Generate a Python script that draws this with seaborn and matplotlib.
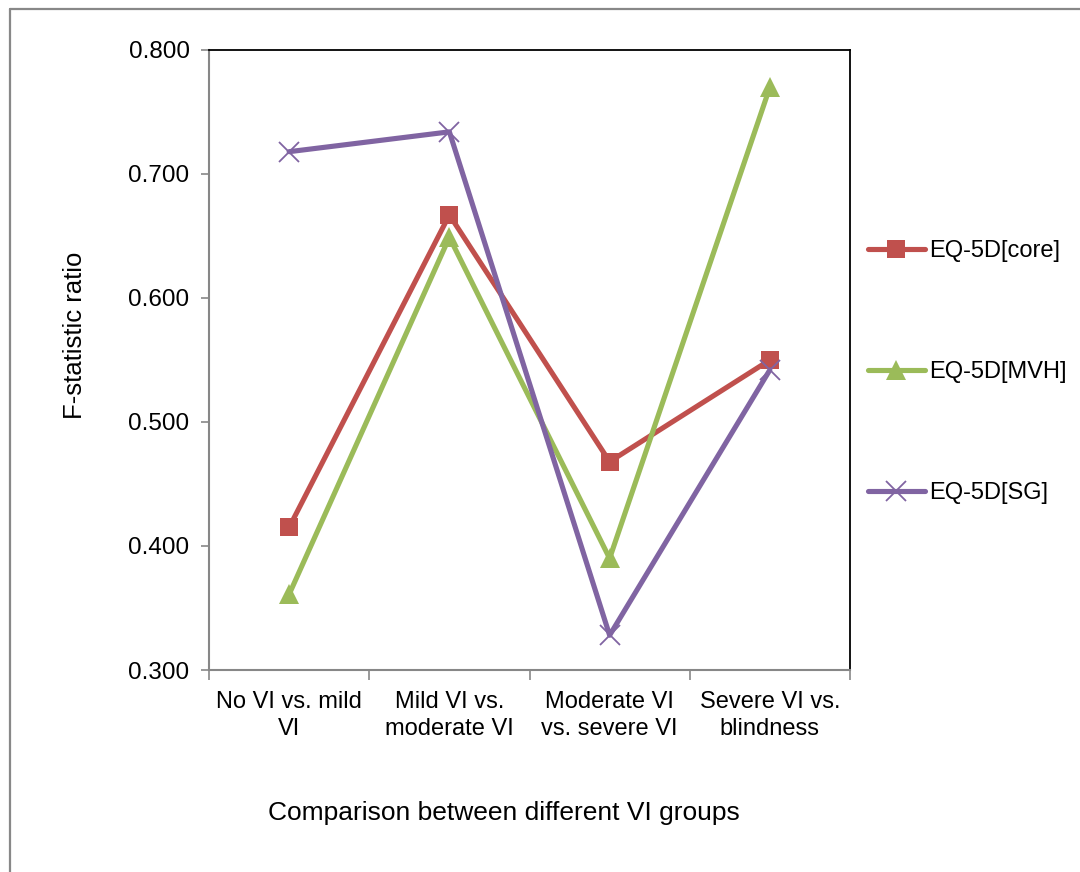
import matplotlib
matplotlib.use("Agg")
import matplotlib.pyplot as plt
from matplotlib.lines import Line2D
import seaborn as sns
import pandas as pd
import numpy as np

categories = ["No VI vs. mild\nVI", "Mild VI vs.\nmoderate VI",
              "Moderate VI\nvs. severe VI", "Severe VI vs.\nblindness"]
core = [0.415, 0.667, 0.468, 0.550]
mvh = [0.361, 0.649, 0.390, 0.770]
sg = [0.718, 0.734, 0.328, 0.542]
series_names = ["EQ-5D[core]", "EQ-5D[MVH]", "EQ-5D[SG]"]
y_ticks = [0.300, 0.400, 0.500, 0.600, 0.700, 0.800]

sns.set_theme(style="white")
plt.rcParams['font.family'] = ['Liberation Sans', 'DejaVu Sans']
plt.rcParams['text.color'] = 'black'
plt.rcParams['xtick.color'] = 'black'
plt.rcParams['ytick.color'] = 'black'

rows = []
for name, vals in zip(series_names, [core, mvh, sg]):
    for i, v in enumerate(vals):
        rows.append({"pos": i, "value": v, "series": name})
df = pd.DataFrame(rows)

colors = {"EQ-5D[core]": "#C0504D", "EQ-5D[MVH]": "#9BBB59", "EQ-5D[SG]": "#8064A2"}
markers = {"EQ-5D[core]": "s", "EQ-5D[MVH]": "^", "EQ-5D[SG]": "x"}
msizes = {"EQ-5D[core]": 13.5, "EQ-5D[MVH]": 14.5, "EQ-5D[SG]": 14}

fig = plt.figure(figsize=(10.8, 8.72), dpi=100)
ax = fig.add_axes([209/1080, 1-670/872, 641/1080, 620/872])

for name in series_names:
    sub = df[df["series"] == name]
    sns.lineplot(data=sub, x="pos", y="value", ax=ax, color=colors[name],
                 linewidth=3.7, marker=markers[name], markersize=msizes[name],
                 markeredgewidth=1.3 if markers[name] == "x" else 0,
                 markeredgecolor=colors[name], label=name, legend=False)

ax.set_xlim(-0.5, 3.5)
ax.set_ylim(0.3, 0.8)
ax.set_yticks(y_ticks)
ax.set_yticklabels([f"{t:.3f}" for t in y_ticks], fontsize=17.5)
ax.set_xticks([-0.5, 0.5, 1.5, 2.5, 3.5])
ax.set_xticklabels([])
ax.set_xticks(range(len(categories)), minor=True)
ax.set_xticklabels(categories, minor=True, fontsize=17, linespacing=1.33)
ax.tick_params(axis='x', which='major', direction='out', length=7, width=1.2,
               color='#878787', bottom=True)
ax.tick_params(axis='x', which='minor', length=0, pad=15, bottom=True)
ax.tick_params(axis='y', direction='out', length=6, width=1.2, color='#878787',
               left=True, pad=8)
ax.set_xlabel("")
ax.set_ylabel("")

for side in ['left', 'bottom']:
    ax.spines[side].set_color('#878787')
    ax.spines[side].set_linewidth(1.5)
for side in ['top', 'right']:
    ax.spines[side].set_color('#000000')
    ax.spines[side].set_linewidth(1.3)
    ax.spines[side].set_visible(True)

handles = [Line2D([], [], color=colors[n], linewidth=3.7, marker=markers[n],
                  markersize=msizes[n], markeredgewidth=1.3 if markers[n] == "x" else 0,
                  markeredgecolor=colors[n]) for n in series_names]
ax.legend(handles, series_names, loc='center left',
          bbox_to_anchor=((868-209)/641, (670-372)/620), frameon=False,
          fontsize=17, handlelength=2.4, handletextpad=0.2, labelspacing=4.2,
          borderpad=0, borderaxespad=0, numpoints=1)

fig.text(504/1080, 1-813/872, "Comparison between different VI groups",
         ha='center', va='center', fontsize=19)
fig.text(75/1080, 1-335/872, "F-statistic ratio", ha='center', va='center',
         rotation=90, fontsize=18.5)

fig.add_artist(Line2D([10/1080, 10/1080], [0, 1-9/872], transform=fig.transFigure,
                      color='#888888', linewidth=1.6))
fig.add_artist(Line2D([10/1080, 1], [1-9/872, 1-9/872], transform=fig.transFigure,
                      color='#888888', linewidth=1.6))

fig.savefig("out.png", dpi=100)
